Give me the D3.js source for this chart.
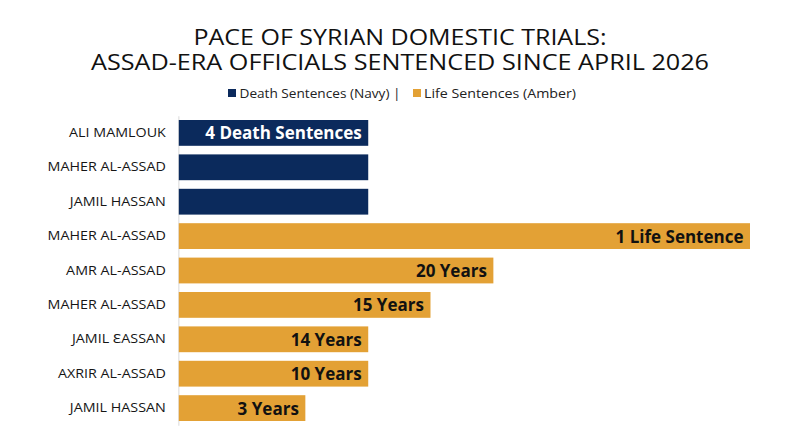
<!DOCTYPE html>
<html>
<head>
<meta charset="utf-8">
<script src="https://cdn.jsdelivr.net/npm/d3@7"></script>
<style>
  html, body { margin: 0; padding: 0; background: #ffffff; }
  svg { display: block; }
</style>
</head>
<body>
<svg id="chart" width="800" height="447"></svg>
<script>
// ---- data ----
const titleLines = ["PACE OF SYRIAN DOMESTIC TRIALS:", "ASSAD-ERA OFFICIALS SENTENCED SINCE APRIL 2026"];
const legendLabels = ["Death Sentences (Navy) |", "Life Sentences (Amber)"];
const names = ["ALI MAMLOUK", "MAHER AL-ASSAD", "JAMIL HASSAN", "MAHER AL-ASSAD", "AMR AL-ASSAD", "MAHER AL-ASSAD", "JAMIL \u0190ASSAN", "AXRIR AL-ASSAD", "JAMIL HASSAN"];
const sentenceTypes = ["death", "death", "death", "life", "life", "life", "life", "life", "life"];
const barValues = [2.99, 2.99, 2.99, 9, 4.96, 3.97, 2.99, 2.99, 2.0];
const valueLabels = ["4 Death Sentences", "", "", "1 Life Sentence", "20 Years", "15 Years", "14 Years", "10 Years", "3 Years"];

const colors = { death: "#0b2a5c", life: "#e3a135" };
const textColor = { death: "#ffffff", life: "#111111" };

const svg = d3.select("#chart");
const font = "'Open Sans', 'Noto Sans', sans-serif";

// ---- title (one text, two lines) ----
svg.append("text")
  .attr("text-anchor", "middle")
  .attr("font-family", font)
  .attr("font-weight", 500)
  .attr("font-size", 22)
  .attr("fill", "#111")
  .selectAll("tspan").data(titleLines).join("tspan")
  .attr("x", 400)
  .attr("y", (d, i) => 45 + i * 24.5)
  .attr("textLength", (d, i) => [413, 618][i])
  .attr("lengthAdjust", "spacingAndGlyphs")
  .text(d => d);

// ---- legend ----
const legend = svg.append("g");
const legendItems = [
  { sq: 228, tx: 239.5, len: 161, c: colors.death },
  { sq: 413, tx: 424, len: 152, c: colors.life }
];
legendItems.forEach((it, i) => {
  legend.append("rect").attr("x", it.sq).attr("y", 89).attr("width", 8).attr("height", 8).attr("fill", it.c);
  legend.append("text")
    .attr("x", it.tx).attr("y", 93)
    .attr("dominant-baseline", "central")
    .attr("font-family", font).attr("font-size", 13).attr("fill", "#222")
    .attr("textLength", it.len).attr("lengthAdjust", "spacingAndGlyphs")
    .text(legendLabels[i]);
});

// ---- scales ----
const idx = d3.range(names.length);
const x = d3.scaleLinear().domain([0, 9]).range([178.3, 750]);
const y = d3.scaleBand().domain(idx).range([115.7, 425.3]).paddingInner(0.25).paddingOuter(0.125);

// ---- axis ----
const axis = svg.append("g")
  .attr("transform", `translate(${x(0)},0)`)
  .call(d3.axisLeft(y).tickSize(0).tickPadding(12.5).tickFormat(i => names[i]));
axis.select(".domain").attr("stroke", "#e6e6e6").attr("stroke-width", 1.5);
axis.selectAll(".tick text")
  .attr("font-family", font)
  .attr("font-size", 13)
  .attr("fill", "#151515")
  .each(function () {
    const w = this.getComputedTextLength();
    d3.select(this).attr("textLength", w * 1.1).attr("lengthAdjust", "spacingAndGlyphs");
  });

// ---- bars ----
svg.append("g").selectAll("rect").data(idx).join("rect")
  .attr("x", x(0) + 0.5)
  .attr("y", i => y(i))
  .attr("width", i => x(barValues[i]) - x(0) - 0.5)
  .attr("height", y.bandwidth())
  .attr("fill", i => colors[sentenceTypes[i]]);

// ---- value labels ----
svg.append("g").selectAll("text").data(idx.filter(i => valueLabels[i])).join("text")
  .attr("x", i => x(barValues[i]) - 6.5)
  .attr("y", i => y(i) + y.bandwidth() / 2)
  .attr("text-anchor", "end")
  .attr("dominant-baseline", "central")
  .attr("font-family", font)
  .attr("font-weight", 700)
  .attr("font-size", 17)
  .attr("fill", i => textColor[sentenceTypes[i]])
  .text(i => valueLabels[i]);
</script>
</body>
</html>
